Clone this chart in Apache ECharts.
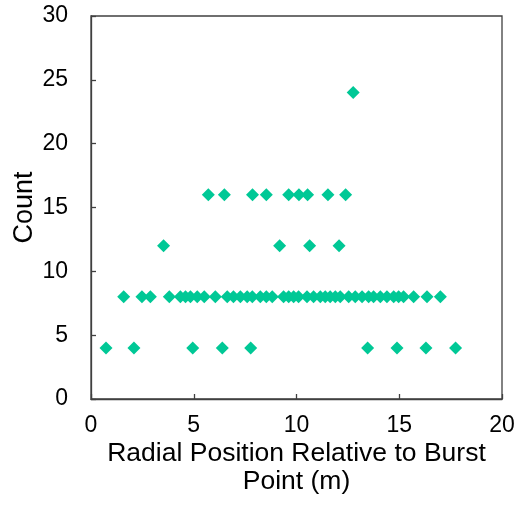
<!DOCTYPE html>
<html>
<head>
<meta charset="utf-8">
<script src="https://cdn.jsdelivr.net/npm/echarts@6/dist/echarts.min.js"></script>
<style>
  html, body { margin: 0; padding: 0; background: #fff; }
  #chart { width: 517px; height: 508px; }
</style>
</head>
<body>
<div id="chart"></div>
<script>
// Radial positions (m) of the hits, grouped by count level
const radiusAt4 = [0.73, 2.09, 4.95, 6.39, 7.77, 13.46, 14.89, 16.3, 17.74];
const radiusAt8 = [
  1.59, 2.48, 2.89, 3.81, 4.35, 4.6, 4.84, 5.17, 5.51, 6.05, 6.63, 6.93, 7.27,
  7.6, 7.85, 8.24, 8.53, 8.82, 9.37, 9.62, 9.86, 10.1,
  10.51, 10.83, 11.16, 11.4, 11.64, 11.89, 12.13, 12.54, 12.86, 13.19, 13.51,
  13.75, 14.08, 14.4, 14.73, 14.97, 15.21, 15.7, 16.35, 17.0
];
const radiusAt12 = [3.53, 9.18, 10.64, 12.07];
const radiusAt16 = [5.71, 6.49, 7.86, 8.53, 9.62, 10.12, 10.54, 11.53, 12.39];
const radiusAt24 = [12.76];

const levels = [
  { count: 4, xs: radiusAt4 },
  { count: 8, xs: radiusAt8 },
  { count: 12, xs: radiusAt12 },
  { count: 16, xs: radiusAt16 },
  { count: 24, xs: radiusAt24 }
];

const xTicks = [0, 5, 10, 15, 20];
const yTicks = [0, 5, 10, 15, 20, 25, 30];

const points = [];
levels.forEach(l => l.xs.forEach(x => points.push([x, l.count])));

const font = 'Liberation Sans, Arial, sans-serif';
const ink = '#000';
const lineCol = '#404040';

const chart = echarts.init(document.getElementById('chart'), null, { renderer: 'canvas' });
chart.setOption({
  animation: false,
  backgroundColor: '#fff',
  grid: {
    left: 91, right: 15, top: 16, bottom: 109,
    containLabel: false,
    outerBoundsMode: 'none',
    show: true, borderColor: lineCol, borderWidth: 1.3
  },
  xAxis: {
    type: 'value',
    min: xTicks[0], max: xTicks[xTicks.length - 1], interval: 5,
    name: 'Radial Position Relative to Burst\nPoint (m)',
    nameLocation: 'middle', nameGap: 40, nameMoveOverlap: false,
    nameTextStyle: { fontFamily: font, fontSize: 26.5, color: ink, lineHeight: 28.5 },
    axisLine: { show: true, lineStyle: { color: lineCol, width: 1.3 } },
    axisTick: { show: true, inside: true, length: 5, lineStyle: { color: lineCol, width: 1.3 } },
    axisLabel: { fontFamily: font, fontSize: 23, color: ink, margin: 15 },
    splitLine: { show: false }
  },
  yAxis: {
    type: 'value',
    min: yTicks[0], max: yTicks[yTicks.length - 1], interval: 5,
    name: 'Count',
    nameLocation: 'middle', nameGap: 53, nameRotate: 90, nameMoveOverlap: false,
    nameTextStyle: { fontFamily: font, fontSize: 27, color: ink },
    axisLine: { show: true, lineStyle: { color: lineCol, width: 1.3 } },
    axisTick: { show: true, inside: true, length: 5, lineStyle: { color: lineCol, width: 1.3 } },
    axisLabel: { fontFamily: font, fontSize: 23, color: ink, margin: 23 },
    splitLine: { show: false }
  },
  series: [{
    type: 'scatter',
    data: points,
    symbol: 'diamond',
    symbolSize: [13, 13],
    itemStyle: { color: '#00C896', opacity: 1 }
  }]
});
</script>
</body>
</html>
